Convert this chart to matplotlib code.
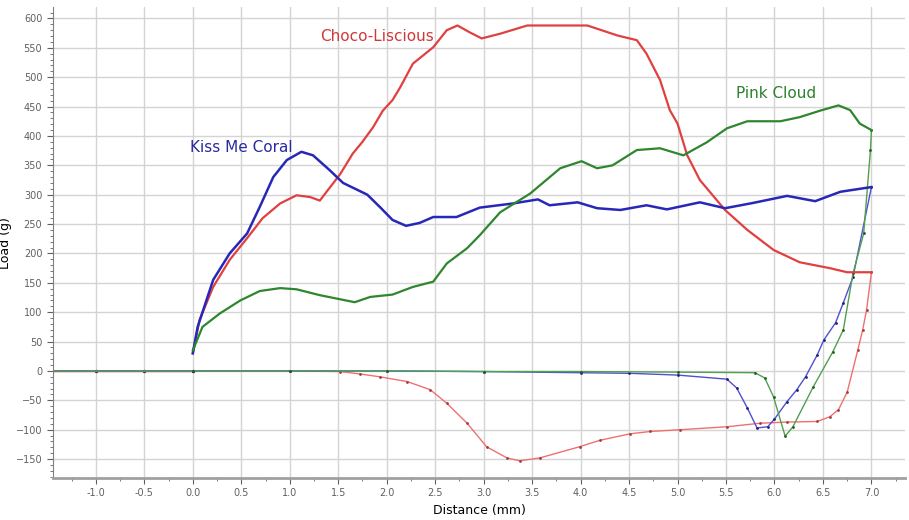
import matplotlib.pyplot as plt
from matplotlib.ticker import MultipleLocator

# --- data ---
# approach (probe moving towards the sample, no load)
approach_x = [-1.45, -1.0, -0.5, 0.0]
approach_y = [0, 0, 0, 0]

# Kiss Me Coral (blue)
coral_fwd_x = [0.0, 0.05, 0.21, 0.38, 0.56, 0.69, 0.83, 0.97, 1.12, 1.24, 1.41, 1.55, 1.8, 1.93,
               2.06, 2.2, 2.34, 2.48, 2.72, 2.96, 3.3, 3.56, 3.68, 3.97, 4.17, 4.41, 4.68, 4.89,
               5.23, 5.49, 5.78, 6.13, 6.42, 6.68, 7.0]
coral_fwd_y = [30, 75, 155, 200, 234, 279, 330, 359, 373, 367, 342, 320, 300, 279,
               257, 247, 252, 262, 262, 278, 285, 292, 282, 287, 277, 274, 282, 275,
               287, 277, 286, 298, 289, 305, 313]
coral_ret_x = [7.0, 6.81, 6.71, 6.63, 6.51, 6.44, 6.32, 6.23, 6.13, 6.0, 5.93, 5.82, 5.72, 5.61,
               5.51, 5.0, 4.5, 4.0, 3.0, 2.0, 1.0, 0.0, -1.45]
coral_ret_y = [313, 160, 116, 82, 53, 27, -10, -32, -52, -82, -95, -97, -63, -29,
               -14, -7, -4, -3, -1, 0, 0, 0, 0]

# Choco-Liscious (red)
choco_fwd_x = [0.0, 0.07, 0.21, 0.38, 0.56, 0.72, 0.9, 1.07, 1.21, 1.31, 1.45, 1.52, 1.65, 1.75,
               1.86, 1.96, 2.06, 2.14, 2.27, 2.48, 2.62, 2.73, 2.86, 2.98, 3.17, 3.45, 3.79,
               4.07, 4.38, 4.58, 4.68, 4.82, 4.92, 5.0, 5.1, 5.23, 5.49, 5.72, 5.99, 6.26,
               6.57, 6.75, 7.0]
choco_fwd_y = [30, 87, 143, 189, 226, 260, 285, 299, 296, 290, 320, 335, 370, 390,
               415, 443, 461, 483, 523, 551, 580, 588, 576, 566, 574, 588, 588,
               588, 571, 563, 540, 495, 444, 421, 367, 325, 274, 240, 206, 185,
               175, 168, 168]
choco_ret_x = [7.0, 6.95, 6.91, 6.86, 6.75, 6.66, 6.57, 6.44, 6.13, 5.85, 5.51, 5.03, 4.72,
               4.51, 4.2, 3.99, 3.58, 3.37, 3.24, 3.03, 2.83, 2.62, 2.45, 2.21, 1.93, 1.72,
               1.52, 1.0, 0.0, -1.45]
choco_ret_y = [168, 104, 70, 36, -36, -66, -78, -86, -87, -89, -95, -100, -103,
               -107, -118, -129, -148, -153, -148, -129, -89, -55, -32, -18, -10, -5,
               -1, 0, 0, 0]

# Pink Cloud (green)
pink_fwd_x = [0.0, 0.1, 0.28, 0.49, 0.69, 0.9, 1.07, 1.31, 1.52, 1.67, 1.83, 2.06, 2.27, 2.48,
              2.62, 2.83, 2.96, 3.17, 3.48, 3.79, 4.01, 4.17, 4.33, 4.58, 4.82, 5.06, 5.3,
              5.51, 5.72, 6.06, 6.26, 6.47, 6.66, 6.78, 6.88, 7.0]
pink_fwd_y = [35, 75, 98, 120, 136, 141, 139, 129, 122, 117, 126, 130, 143, 152,
              183, 209, 231, 270, 302, 345, 357, 345, 350, 376, 379, 367, 389,
              413, 425, 425, 432, 443, 452, 444, 421, 410]
pink_ret_x = [7.0, 6.99, 6.92, 6.81, 6.71, 6.6, 6.4, 6.19, 6.11, 5.99, 5.9, 5.8, 5.0, 4.0,
              3.0, 2.0, 1.0, 0.0, -1.45]
pink_ret_y = [410, 376, 234, 166, 70, 32, -27, -95, -111, -44, -12, -3, -2, -1,
              -1, 0, 0, 0, 0]

fig = plt.figure(figsize=(9.09, 5.2), dpi=100)
ax = fig.add_axes([0.058, 0.081, 0.938, 0.905])

# approach baseline
ax.plot(approach_x, approach_y, color="#e05050", lw=1.0, marker=".", ms=3,
        mfc="#603030", mec="#603030", zorder=2)

# return (withdrawal) curves - thin
ax.plot(choco_ret_x, choco_ret_y, color="#f07070", lw=1.0, marker=".", ms=2,
        mfc="#a04040", mec="#a04040")
ax.plot(coral_ret_x, coral_ret_y, color="#5050d0", lw=1.0, marker=".", ms=2,
        mfc="#202080", mec="#202080")
ax.plot(pink_ret_x, pink_ret_y, color="#50a050", lw=1.0, marker=".", ms=2,
        mfc="#206020", mec="#206020")

# forward (compression) curves - thicker
ax.plot(choco_fwd_x, choco_fwd_y, color="#e04040", lw=1.6)
ax.plot(coral_fwd_x, coral_fwd_y, color="#2828b8", lw=1.8)
ax.plot(pink_fwd_x, pink_fwd_y, color="#2e862e", lw=1.6)

ax.text(-0.03, 381, "Kiss Me Coral", color="#2a2aa0", fontsize=11, va="center")
ax.text(1.31, 570, "Choco-Liscious", color="#d03838", fontsize=11, va="center")
ax.text(5.6, 473, "Pink Cloud", color="#2e802e", fontsize=11, va="center")

ax.set_xlim(-1.445, 7.35)
ax.set_ylim(-182, 619)
ax.xaxis.set_major_locator(MultipleLocator(0.5))
ax.xaxis.set_minor_locator(MultipleLocator(0.25))
ax.yaxis.set_major_locator(MultipleLocator(50))
ax.yaxis.set_minor_locator(MultipleLocator(10))
ax.set_xticks([t / 2 for t in range(-2, 15)])
ax.set_xticklabels([f"{t / 2:.1f}" for t in range(-2, 15)])

ax.grid(True, which="major", color="#d4d4d4", lw=1.0)
ax.set_axisbelow(True)
for s in ["top", "right"]:
    ax.spines[s].set_visible(False)
ax.spines["left"].set_color("#808080")
ax.spines["bottom"].set_color("#a0a0a0")
ax.spines["bottom"].set_linewidth(2)
ax.tick_params(which="both", colors="#606060", labelsize=7, direction="out")
ax.tick_params(which="major", length=4)
ax.tick_params(which="minor", length=2)

ax.set_xlabel("Distance (mm)", fontsize=9, labelpad=4)
ax.set_ylabel("Load (g)", fontsize=9)
ax.yaxis.set_label_coords(-0.048, 0.5)

plt.savefig("out.png", dpi=100)
